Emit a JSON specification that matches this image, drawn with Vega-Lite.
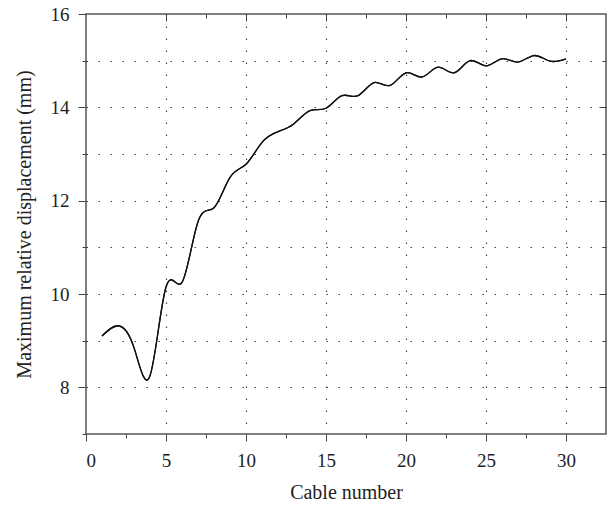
{
  "$schema": "https://vega.github.io/schema/vega-lite/v6.json",
  "width": 520,
  "height": 420,
  "autosize": "none",
  "padding": {"left": 86, "top": 14, "right": 5, "bottom": 73},
  "background": "white",
  "config": {
    "view": {"stroke": "#555", "strokeWidth": 1.5},
    "axis": {
      "labelFont": "Liberation Serif",
      "titleFont": "Liberation Serif",
      "labelFontSize": 19,
      "titleFontSize": 20,
      "titleFontWeight": "normal",
      "labelColor": "#222",
      "titleColor": "#222",
      "tickColor": "#444",
      "domain": false,
      "gridColor": "#444",
      "gridDash": [1.5, 10.5],
      "gridWidth": 1.2
    }
  },
  "data": {
    "values": [
      {"cable": 1, "disp": 9.10},
      {"cable": 2, "disp": 9.32},
      {"cable": 3, "disp": 8.85},
      {"cable": 4, "disp": 8.25},
      {"cable": 5, "disp": 10.15},
      {"cable": 6, "disp": 10.25},
      {"cable": 7, "disp": 11.55},
      {"cable": 8, "disp": 11.85},
      {"cable": 9, "disp": 12.50},
      {"cable": 10, "disp": 12.78},
      {"cable": 11, "disp": 13.25},
      {"cable": 12, "disp": 13.48},
      {"cable": 13, "disp": 13.65},
      {"cable": 14, "disp": 13.93},
      {"cable": 15, "disp": 13.98},
      {"cable": 16, "disp": 14.25},
      {"cable": 17, "disp": 14.25},
      {"cable": 18, "disp": 14.53},
      {"cable": 19, "disp": 14.47},
      {"cable": 20, "disp": 14.74},
      {"cable": 21, "disp": 14.65},
      {"cable": 22, "disp": 14.86},
      {"cable": 23, "disp": 14.74},
      {"cable": 24, "disp": 15.00},
      {"cable": 25, "disp": 14.89},
      {"cable": 26, "disp": 15.04},
      {"cable": 27, "disp": 14.97},
      {"cable": 28, "disp": 15.11},
      {"cable": 29, "disp": 14.99},
      {"cable": 30, "disp": 15.04}
    ]
  },
  "layer": [
    {
      "mark": {"type": "line", "interpolate": "natural", "color": "#111", "strokeWidth": 1.3},
      "encoding": {
        "x": {
          "field": "cable", "type": "quantitative",
          "scale": {"domain": [0, 32.5], "nice": false},
          "axis": {
            "orient": "bottom",
            "title": "Cable number",
            "titlePadding": 12,
            "values": [0, 2.5, 5, 7.5, 10, 12.5, 15, 17.5, 20, 22.5, 25, 27.5, 30],
            "labelExpr": "datum.value % 5 == 0 ? datum.label : ''",
            "labelPadding": 10,
            "tickSize": {"condition": {"test": "datum.value % 5 == 0", "value": 7}, "value": 4},
            "grid": true,
            "gridOpacity": {"condition": {"test": "datum.value % 5 == 0 && datum.value > 0", "value": 1}, "value": 0}
          }
        },
        "y": {
          "field": "disp", "type": "quantitative",
          "scale": {"domain": [7, 16], "nice": false},
          "axis": {
            "orient": "left",
            "title": "Maximum relative displacement (mm)",
            "titlePadding": 16,
            "values": [7, 8, 9, 10, 11, 12, 13, 14, 15, 16],
            "labelExpr": "datum.value % 2 == 0 ? datum.label : ''",
            "labelPadding": 9,
            "tickSize": {"condition": {"test": "datum.value % 2 == 0", "value": 8}, "value": 4},
            "grid": true,
            "gridOpacity": {"condition": {"test": "datum.value > 7 && datum.value < 16", "value": 1}, "value": 0}
          }
        }
      }
    },
    {
      "mark": {"type": "line", "interpolate": "natural", "color": "#111", "strokeWidth": 1.3},
      "encoding": {
        "x": {
          "field": "cable", "type": "quantitative",
          "scale": {"domain": [0, 32.5], "nice": false},
          "axis": {
            "orient": "top",
            "title": null,
            "values": [5, 7.5, 10, 12.5, 15, 17.5, 20, 22.5, 25, 27.5, 30],
            "labels": false,
            "tickSize": {"condition": {"test": "datum.value % 5 == 0", "value": -7}, "value": -4},
            "grid": false
          }
        },
        "y": {
          "field": "disp", "type": "quantitative",
          "scale": {"domain": [7, 16], "nice": false},
          "axis": {
            "orient": "right",
            "title": null,
            "values": [8, 9, 10, 11, 12, 13, 14, 15],
            "labels": false,
            "tickSize": {"condition": {"test": "datum.value % 2 == 0", "value": -7}, "value": -4},
            "grid": false
          }
        }
      }
    }
  ],
  "resolve": {"axis": {"x": "independent", "y": "independent"}}
}
